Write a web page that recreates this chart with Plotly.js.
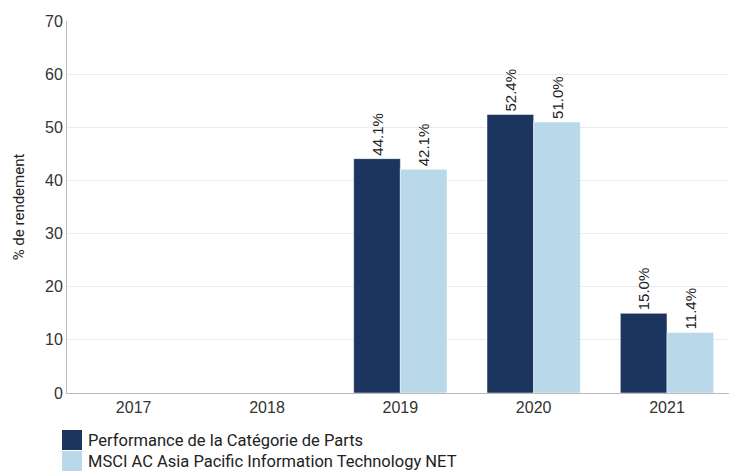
<!DOCTYPE html>
<html><head><meta charset="utf-8">
<script src="https://cdn.plot.ly/plotly-3.0.1.min.js"></script>
<style>html,body{margin:0;padding:0;background:#fff}</style>
</head><body><div id="chart" style="width:729px;height:472px"></div>
<script>
var categories = ['2017','2018','2019','2020','2021'];
var seriesNames = ['Performance de la Catégorie de Parts','MSCI AC Asia Pacific Information Technology NET'];
var fundValues = [null, null, 44.1, 52.4, 15.0];
var indexValues = [null, null, 42.1, 51.0, 11.4];
var yTicks = [0,10,20,30,40,50,60,70];
var colors = ['#1c355e','#b9d9eb'];

function labels(v){return v.map(function(x){return x==null?'':x.toFixed(1)+'%';});}

var traces = [fundValues, indexValues].map(function(vals,i){
  return {type:'bar', x:categories, y:vals, name:seriesNames[i],
    marker:{color:colors[i], line:{color:'#ffffff', width:0.5}},
    text:labels(vals), textposition:'outside', textangle:-90,
    textfont:{family:'Liberation Sans, Arial, sans-serif', size:15, color:'#222'},
    cliponaxis:false, showlegend:false, hoverinfo:'none'};
});

var font = 'Liberation Sans, Arial, sans-serif';
var shapes = [], annotations = [];
seriesNames.forEach(function(n,i){
  var y0 = 430 + i*21;
  shapes.push({type:'rect', xref:'paper', yref:'paper',
    x0:(62-67)/662, x1:(82-67)/662, y0:(393-y0)/372, y1:(393-(y0+20))/372,
    fillcolor:colors[i], line:{width:0}});
  annotations.push({xref:'paper', yref:'paper', x:(86-67)/662, y:(393-(y0+10))/372,
    xanchor:'left', yanchor:'middle', text:n, showarrow:false,
    font:{family:'Roboto, sans-serif', size:16.5, color:'#222'}});
});

var layout = {
  width:729, height:472,
  margin:{l:67, r:0, t:21, b:79},
  paper_bgcolor:'#fff', plot_bgcolor:'#fff',
  barmode:'group', bargap:0.3, bargroupgap:0,
  font:{family:font, size:16, color:'#333'},
  xaxis:{type:'category', range:[-0.5,4.465], showgrid:false, showline:true,
    linecolor:'#bbbbbb', linewidth:1, ticks:'', tickfont:{size:16, color:'#333'}, fixedrange:true},
  yaxis:{range:[0,70], tickvals:yTicks, showgrid:true, gridcolor:'#ebebeb', gridwidth:1,
    showline:true, linecolor:'#bbbbbb', linewidth:1, zeroline:false, ticks:'',
    tickfont:{size:16, color:'#333'},
    title:{text:'% de rendement', font:{family:'Roboto, sans-serif', size:15, color:'#222'}, standoff:16}},
  shapes:shapes, annotations:annotations, showlegend:false
};
Plotly.newPlot('chart', traces, layout, {staticPlot:true, displayModeBar:false});
</script></body></html>
